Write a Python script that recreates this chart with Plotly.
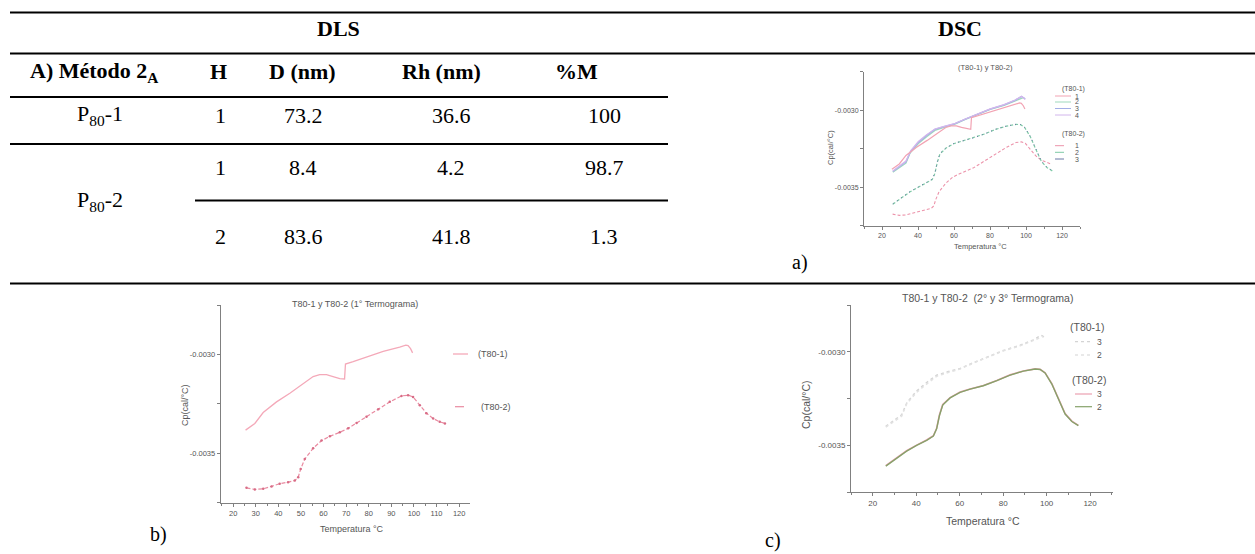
import plotly.graph_objects as go

W, H = 1255, 554

# ---------------- DLS table ----------------
dls_header = ["A) Método 2<sub>A</sub>", "H", "D (nm)", "Rh (nm)", "%M"]
sample_names = ["P<sub>80</sub>-1", "P<sub>80</sub>-2"]
pop_h = ["1", "1", "2"]
diam_nm = [73.2, 8.4, 83.6]
rh_nm = [36.6, 4.2, 41.8]
mass_pct = [100, 98.7, 1.3]

# ---------------- DSC thermograms ----------------
# T80-1, run 1 (1st thermogram)
t_p1_r1 = [25.5, 29.6, 33.3, 39.2, 45.1, 50.2, 55.4, 58.3, 61.3, 64.2, 67.2, 69.3,
           69.7, 73.1, 79.0, 86.4, 93.7, 96.4, 97.4, 98.5, 99.4]
cp_p1_r1 = [-0.003383, -0.003349, -0.003294, -0.003240, -0.003196, -0.003156, -0.003112,
            -0.003102, -0.003102, -0.003112, -0.003122, -0.003124, -0.003049, -0.003037,
            -0.003013, -0.002985, -0.002963, -0.002953, -0.002955, -0.002971, -0.002992]

# T80-1, runs 2-4
t_p1_r2 = [26.0, 29.5, 33.3, 35.6, 40.2, 44.8, 49.4, 54.0, 60.2, 66.3, 72.5, 80.1,
           87.8, 93.9, 98.5]
cp_p1_r2 = [-0.003402, -0.003372, -0.003344, -0.003278, -0.003216, -0.003172, -0.003131,
            -0.003113, -0.003092, -0.003060, -0.003030, -0.002995, -0.002968, -0.002941,
            -0.002918]
t_p1_r3 = [26.0, 29.5, 33.3, 35.8, 40.2, 44.8, 49.4, 54.0, 60.2, 66.3, 72.5, 80.1,
           87.8, 93.9, 97.5, 99.6]
cp_p1_r3 = [-0.003398, -0.003366, -0.003336, -0.003270, -0.003209, -0.003164, -0.003125,
            -0.003108, -0.003089, -0.003058, -0.003028, -0.002993, -0.002965, -0.002936,
            -0.002911, -0.002926]
t_p1_r4 = [26.0, 29.5, 33.3, 36.0, 40.2, 44.8, 49.4, 54.0, 60.2, 66.3, 72.5, 80.1,
           87.8, 93.9, 97.5, 99.6]
cp_p1_r4 = [-0.003395, -0.003362, -0.003330, -0.003262, -0.003203, -0.003160, -0.003122,
            -0.003106, -0.003088, -0.003057, -0.003027, -0.002992, -0.002964, -0.002934,
            -0.002909, -0.002930]

# T80-2, run 1 (1st thermogram)
t_p2_r1 = [25.9, 29.6, 33.3, 37.0, 40.6, 44.3, 47.3, 48.8, 49.9, 51.7, 55.4, 59.1,
           62.8, 67.2, 70.9, 74.6, 79.0, 84.2, 89.3, 94.5, 97.4, 99.6, 102.6, 105.5,
           108.5, 111.4, 113.7]
cp_p2_r1 = [-0.003675, -0.003683, -0.003680, -0.003668, -0.003654, -0.003646, -0.003638,
            -0.003621, -0.003579, -0.003529, -0.003475, -0.003436, -0.003414, -0.003394,
            -0.003374, -0.003347, -0.003315, -0.003277, -0.003240, -0.003210, -0.003206,
            -0.003215, -0.003257, -0.003297, -0.003324, -0.003341, -0.003349]

# T80-2, runs 2-3
t_p2_r2 = [26.0, 31.0, 35.6, 40.2, 44.8, 47.9, 49.4, 50.7, 52.2, 55.6, 60.2, 64.8,
           70.9, 77.1, 83.2, 89.3, 94.7, 97.0, 99.3, 102.4, 105.4, 108.5, 111.6, 114.6]
cp_p2_r2 = [-0.003610, -0.003567, -0.003530, -0.003500, -0.003473, -0.003450, -0.003411,
            -0.003340, -0.003284, -0.003246, -0.003216, -0.003199, -0.003181, -0.003154,
            -0.003124, -0.003103, -0.003092, -0.003094, -0.003113, -0.003172, -0.003252,
            -0.003332, -0.003372, -0.003394]
t_p2_r3 = [26.0, 31.0, 35.6, 40.2, 44.8, 47.9, 49.4, 50.7, 52.2, 55.6, 60.2, 64.8,
           70.9, 77.1, 83.2, 89.3, 94.7, 97.0, 99.3, 102.4, 105.4, 108.5, 111.6, 114.6]
cp_p2_r3 = [-0.003608, -0.003565, -0.003528, -0.003498, -0.003471, -0.003448, -0.003408,
            -0.003336, -0.003281, -0.003244, -0.003214, -0.003198, -0.003180, -0.003153,
            -0.003123, -0.003102, -0.003091, -0.003093, -0.003112, -0.003170, -0.003250,
            -0.003330, -0.003370, -0.003393]

cp_ticks = [-0.0035, -0.0030]
cp_ticktext = ["-0.0035", "-0.0030"]
temp_ticks_20 = [20, 40, 60, 80, 100, 120]
temp_ticks_10 = [20, 30, 40, 50, 60, 70, 80, 90, 100, 110, 120]

# ---------------- helpers ----------------
SERIF = "Liberation Serif"
SANS = "Liberation Sans"
GREY = "#555555"
AXIS = "#808080"


def px(x):
    return x / W


def py(y):
    return 1 - y / H


annotations = []
shapes = []


def text(x, y, s, size, family=SANS, color=GREY, xanchor="center", angle=0):
    annotations.append(dict(x=px(x), y=py(y), xref="paper", yref="paper", text=s,
                            showarrow=False, xanchor=xanchor, yanchor="middle",
                            textangle=angle,
                            font=dict(family=family, size=size, color=color)))


def hline(x0, x1, y, width=2.2, color="black", dash="solid"):
    shapes.append(dict(type="line", xref="paper", yref="paper", x0=px(x0), x1=px(x1),
                       y0=py(y), y1=py(y), line=dict(color=color, width=width, dash=dash)))


fig = go.Figure()

# ---------------- table layout ----------------
for y in (12.5, 53.5, 283.5):
    hline(10, W, y)
for y in (97, 144):
    hline(10, 668, y)
hline(195, 668, 200.5)

TS = 22
text(338, 29, "<b>DLS</b>", TS, SERIF, "black")
text(960, 29, "<b>DSC</b>", TS, SERIF, "black")

header_x = [94, 218, 302, 441, 576]
for hx, h in zip(header_x, dls_header):
    text(hx, 72, f"<b>{h}</b>", TS, SERIF, "black")

text(100, 115, sample_names[0], TS, SERIF, "black")
text(100, 201, sample_names[1], TS, SERIF, "black")
row_y = [115, 167, 237]
for ry, h, d, r, m in zip(row_y, pop_h, diam_nm, rh_nm, mass_pct):
    text(220, ry, h, TS, SERIF, "black")
    text(303, ry, str(d), TS, SERIF, "black")
    text(451, ry, str(r), TS, SERIF, "black")
    text(604, ry, str(m), TS, SERIF, "black")

text(800, 262, "a)", 20, SERIF, "black")
text(158, 534, "b)", 20, SERIF, "black")
text(773, 540, "c)", 20, SERIF, "black")


# ---------------- axes ----------------
def xaxis_cfg(x0, x1, rng, ticks, minor_dt, size):
    return dict(domain=[px(x0), px(x1)], range=rng, showline=True, linecolor=AXIS,
                linewidth=1, ticks="outside", ticklen=3, tickcolor=AXIS, tickwidth=1,
                tickmode="array", tickvals=ticks, ticktext=[str(t) for t in ticks],
                tickfont=dict(family=SANS, size=size, color=GREY), showgrid=False,
                zeroline=False, fixedrange=True,
                minor=dict(ticks="outside", ticklen=2, tickcolor=AXIS, dtick=minor_dt,
                           tick0=0, showgrid=False))


def yaxis_cfg(y0, y1, size, anchor):
    return dict(domain=[py(y1), py(y0)], range=[-0.00375, -0.00275], showline=True,
                linecolor=AXIS, linewidth=1, ticks="outside", ticklen=3, tickcolor=AXIS,
                tickwidth=1, tickmode="array", tickvals=cp_ticks, ticktext=cp_ticktext,
                tickfont=dict(family=SANS, size=size, color=GREY), showgrid=False,
                zeroline=False, fixedrange=True, anchor=anchor,
                minor=dict(ticks="outside", ticklen=3, tickcolor=AXIS, dtick=0.00025,
                           tick0=0, showgrid=False))


# a) all runs
xa = xaxis_cfg(864, 1080, [10, 130], temp_ticks_20, 10, 7)
ya = yaxis_cfg(71.7, 225.7, 7, "x")
xa["anchor"] = "y"
# b) 1st thermogram
xb = xaxis_cfg(220.7, 470, [14.5, 124.8], temp_ticks_10, 5, 7.5)
yb = yaxis_cfg(305, 502.7, 7.5, "x2")
xb["anchor"] = "y2"
# c) 2nd and 3rd thermograms
xc = xaxis_cfg(851, 1112.7, [10, 130.4], temp_ticks_20, 10, 8)
yc = yaxis_cfg(305, 492.3, 8, "x3")
xc["anchor"] = "y3"


def line(t, cp, color, xa_, ya_, width=1.1, dash="solid", mode="lines", marker=None):
    fig.add_trace(go.Scatter(x=t, y=cp, mode=mode, xaxis=xa_, yaxis=ya_,
                             line=dict(color=color, width=width, dash=dash),
                             marker=marker, showlegend=False, hoverinfo="skip"))


# a)
A_COL = {"p1r1": "#f2a3b3", "p1r2": "#9fd9bd", "p1r3": "#a3aee6", "p1r4": "#d2b6ec",
         "p2r1": "#ec93aa", "p2r2": "#7fcaa6", "p2r3": "#6b79a6"}
line(t_p1_r2, cp_p1_r2, A_COL["p1r2"], "x", "y", width=1.3)
line(t_p1_r3, cp_p1_r3, A_COL["p1r3"], "x", "y", width=1.3)
line(t_p1_r4, cp_p1_r4, A_COL["p1r4"], "x", "y", width=1.3)
line(t_p1_r1, cp_p1_r1, A_COL["p1r1"], "x", "y", width=1.2)
line(t_p2_r1, cp_p2_r1, A_COL["p2r1"], "x", "y", dash="3px,2px")
line(t_p2_r2, cp_p2_r2, A_COL["p2r2"], "x", "y", width=1.2, dash="3px,2px")
line(t_p2_r3, cp_p2_r3, A_COL["p2r3"], "x", "y", width=1, dash="1px,4px")

# b)
line(t_p1_r1, cp_p1_r1, "#f4a9b9", "x2", "y2", width=1.3)
line(t_p2_r1, cp_p2_r1, "#e98ba1", "x2", "y2", width=1.2, dash="4px,2px",
     mode="lines+markers", marker=dict(size=2.5, color="#d86c86"))

# c)
line(t_p1_r3, cp_p1_r3, "#d4d4d4", "x3", "y3", width=1.5, dash="dot")
line(t_p1_r2, cp_p1_r2, "#e2e2e2", "x3", "y3", width=1.5, dash="dot")
line(t_p2_r3, cp_p2_r3, "#eba1b1", "x3", "y3", width=1.6)
line(t_p2_r2, cp_p2_r2, "#86a26a", "x3", "y3", width=1.4)

# ---------------- titles, axis labels, legends ----------------
# a)
text(985, 68, "(T80-1) y T80-2)", 7.5)
text(980, 246, "Temperatura °C", 7.5)
text(830, 148, "Cp(cal/°C)", 7.5, angle=-90)
text(1073, 89, "(T80-1)", 7)
text(1073, 134, "(T80-2)", 7)
for i, (key, yy) in enumerate(zip(["p1r1", "p1r2", "p1r3", "p1r4"], [96, 102, 108.5, 115])):
    hline(1055, 1071, yy, width=1, color=A_COL[key])
    text(1077, yy, str(i + 1), 7)
for i, (key, yy) in enumerate(zip(["p2r1", "p2r2", "p2r3"], [145.7, 152.3, 159])):
    hline(1055, 1071, yy, width=1, color=A_COL[key], dash="dash")
    text(1077, yy, str(i + 1), 7)

# b)
text(355, 304, "T80-1 y T80-2 (1° Termograma)", 9)
text(352, 529, "Temperatura °C", 9)
text(185, 405, "Cp(cal/°C)", 9, angle=-90)
hline(453, 468, 354, width=1.3, color="#f4a9b9")
text(476, 354, "(T80-1)", 9, xanchor="left")
hline(455, 472, 406.7, width=1.2, color="#e98ba1", dash="dash")
text(479, 406.7, "(T80-2)", 9, xanchor="left")

# c)
text(987, 298, "T80-1 y T80-2  (2° y 3° Termograma)", 10.5)
text(983, 521, "Temperatura °C", 10.5)
text(806, 405, "Cp(cal/°C)", 10.5, angle=-90)
text(1087, 327, "(T80-1)", 10.5)
hline(1075, 1092, 341.7, width=1.3, color="#d4d4d4", dash="dot")
text(1099, 341.7, "3", 8.5)
hline(1075, 1092, 355, width=1.3, color="#e2e2e2", dash="dot")
text(1099, 355, "2", 8.5)
text(1089, 380, "(T80-2)", 10.5)
hline(1075, 1092, 394, width=1.2, color="#eba1b1")
text(1099, 394, "3", 8.5)
hline(1075, 1092, 406.7, width=1.2, color="#86a26a")
text(1099, 406.7, "2", 8.5)

fig.update_layout(
    width=W, height=H, margin=dict(l=0, r=0, t=0, b=0),
    paper_bgcolor="white", plot_bgcolor="white", showlegend=False,
    xaxis=xa, yaxis=ya, xaxis2=xb, yaxis2=yb, xaxis3=xc, yaxis3=yc,
    annotations=annotations, shapes=shapes,
)

fig.write_html("out.html")
